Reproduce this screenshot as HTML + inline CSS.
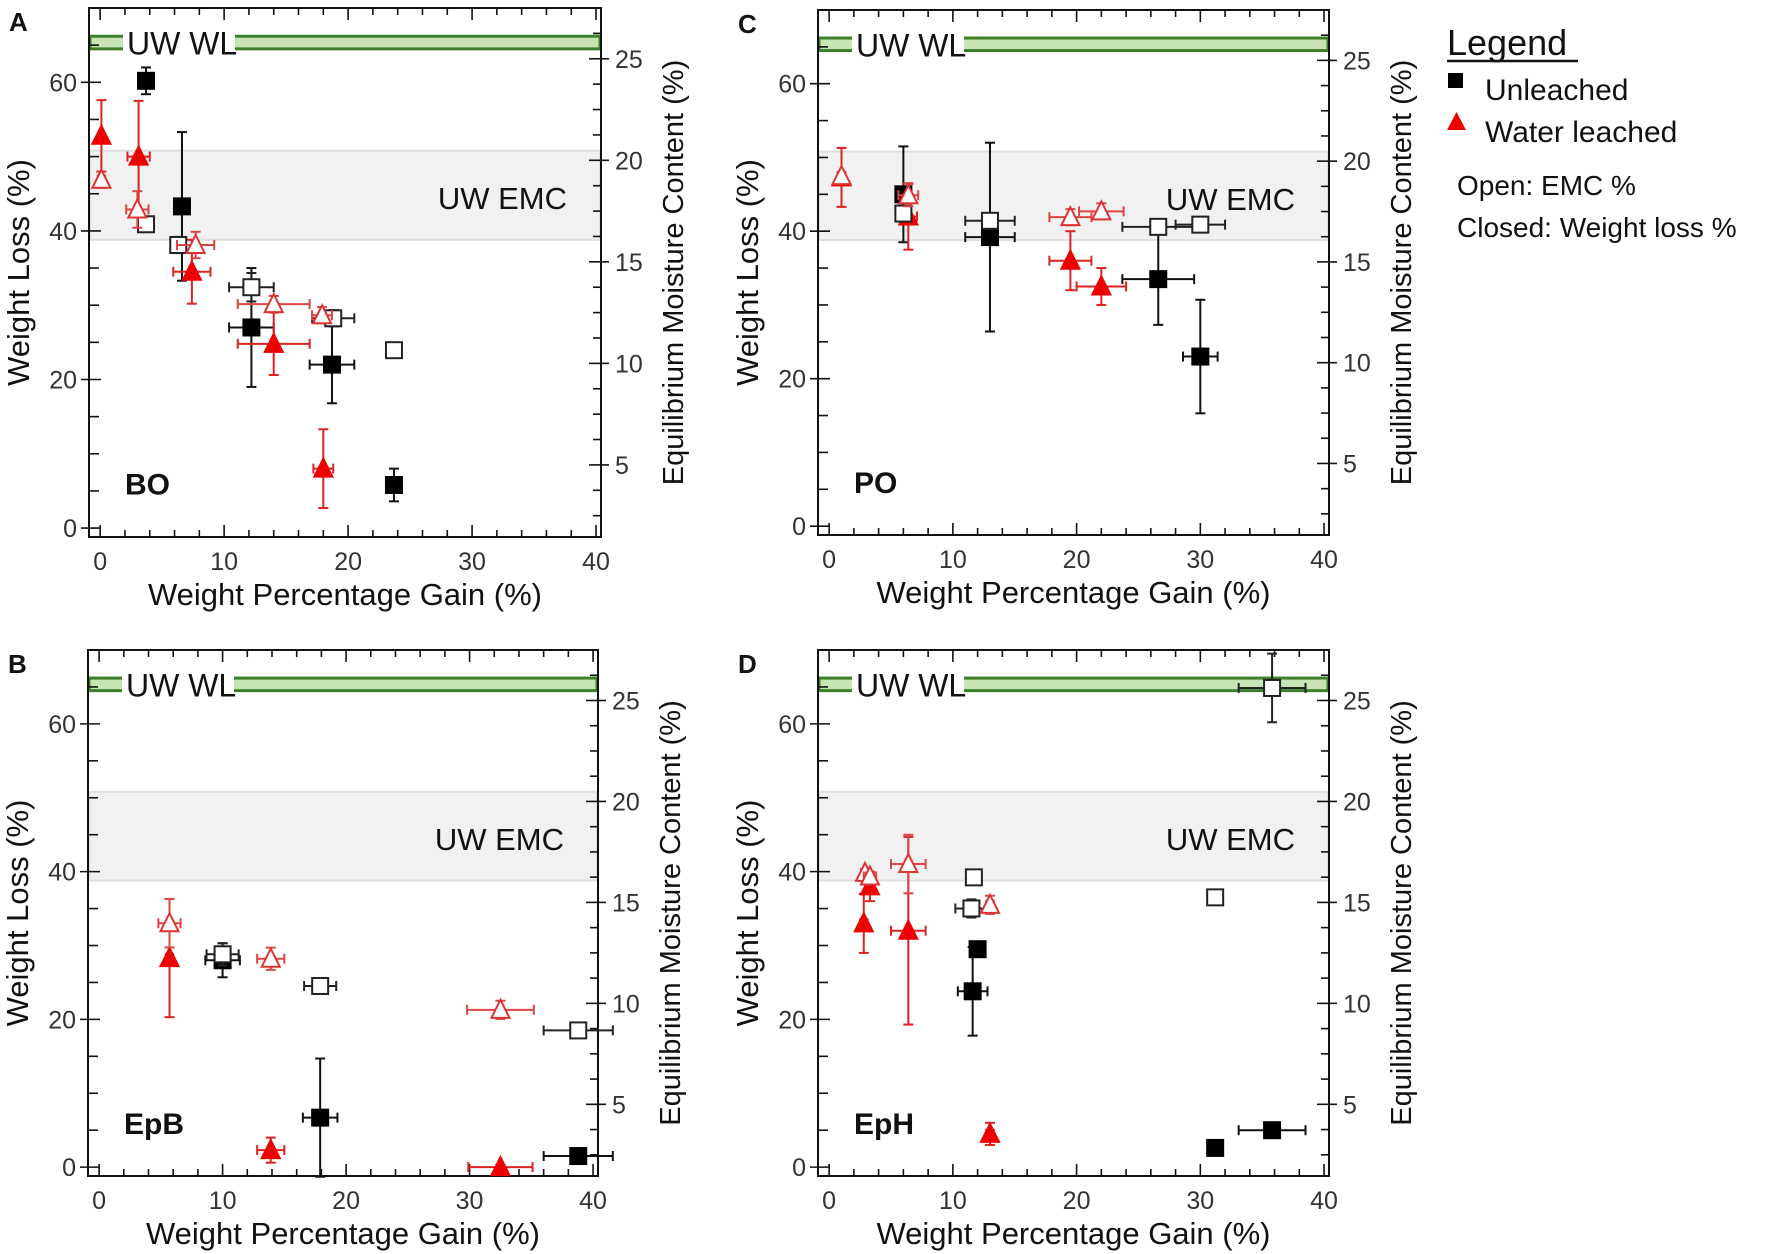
<!DOCTYPE html>
<html><head><meta charset="utf-8"><style>
html,body{margin:0;padding:0;background:#fff;}
svg{display:block;font-family:"Liberation Sans",sans-serif;}
</style></head><body>
<svg id="fig" width="1772" height="1254" viewBox="0 0 1772 1254" xmlns="http://www.w3.org/2000/svg">
<rect width="1772" height="1254" fill="#fff"/>
<g id="legend">
  <text x="1447" y="55" font-size="36" fill="#111">Legend</text>
  <line x1="1447" y1="61" x2="1578" y2="61" stroke="#111" stroke-width="2.5"/>
  <rect x="1448" y="73" width="15" height="15" fill="#000"/>
  <text x="1485" y="100" font-size="30" fill="#111">Unleached</text>
  <polygon points="1447,130 1466,130 1456.5,112" fill="#e00"/>
  <text x="1485" y="142" font-size="30" fill="#111">Water leached</text>
  <text x="1457" y="195" font-size="28" fill="#111">Open: EMC %</text>
  <text x="1457" y="237" font-size="28" fill="#111">Closed: Weight loss %</text>
</g>
</svg>
<script>
// ---- data: [x, y, xerr, yerr]; closed = weight loss (left axis), open = EMC (right axis) ----
const boClosedBlack = [[3.7,60.2,0.3,1.8],[6.6,43.3,0.6,10],[12.2,27,1.8,8],[18.7,22,1.8,5.2],[23.7,5.8,0.4,2.2]];
const boClosedRed   = [[0.1,52.8,0.2,4.8],[3.1,50,0.9,7.5],[7.4,34.5,1.5,4.3],[14,24.8,2.9,4.2],[18,8,0.8,5.3]];
const boOpenBlack   = [[3.7,16.85,0.3,0.3],[6.3,15.83,0.5,0.4],[12.2,13.75,1.8,0.7],[18.8,12.22,1.7,0.4],[23.7,10.65,0.4,0.3]];
const boOpenRed     = [[0.1,19.04,0.3,0.4],[3.0,17.58,0.9,0.9],[7.7,15.83,1.5,0.65],[14,12.92,2.9,0.4],[17.9,12.37,0.8,0.4]];

const poClosedBlack = [[6,45,0.3,6.5],[13,39.2,2,12.8],[26.6,33.5,2.9,6.2],[30,23,1.4,7.7]];
const poClosedRed   = [[1,47.3,0.3,4],[6.4,42,0.7,4.5],[19.5,36,1.7,4],[22,32.5,2,2.5]];
const poOpenBlack   = [[6,17.4,0.3,0.3],[13,17.04,2,0.3],[26.6,16.74,2.9,0.3],[30,16.85,2,0.3]];
const poOpenRed     = [[1,19.26,0.3,0.2],[6.4,18.31,0.8,0.55],[19.5,17.22,1.7,0.4],[22,17.51,1.8,0.4]];

const epbClosedBlack = [[10,28,1.4,2.3],[17.9,6.7,1.4,8],[38.8,1.5,2.8,0.3]];
const epbClosedRed   = [[5.7,28.3,0.3,8],[13.9,2.3,1.1,1.7],[32.5,0,2.6,0.3]];
const epbOpenBlack   = [[10,12.43,1.3,0.55],[17.9,10.86,1.3,0.37],[38.8,8.66,2.8,0.37]];
const epbOpenRed     = [[5.7,13.97,0.9,1.2],[13.9,12.21,1.1,0.55],[32.5,9.68,2.7,0.45]];

const ephClosedBlack = [[11.6,23.8,1.2,6],[12,29.5,0.3,0.5],[31.2,2.6,0.4,0.3],[35.8,5,2.7,0.3]];
const ephClosedRed   = [[2.8,33,0.3,4],[3.3,38,0.3,2],[6.4,32,1.4,12.7],[13,4.5,0.3,1.5]];
const ephOpenBlack   = [[11.7,16.24,0.3,0.3],[11.5,14.7,1.3,0.45],[31.2,15.25,0.3,0.3],[35.8,25.62,2.7,1.7]];
const ephOpenRed     = [[2.9,16.46,0.3,0.2],[3.3,16.28,0.5,0.2],[6.4,16.9,1.4,1.45],[13,14.88,0.3,0.45]];

const xTicks = [0,10,20,30,40];
const yTicks = [0,20,40,60];
const rTicks = [5,10,15,20,25];
const wlBand = [64.5,66.2];
const emcBand = [38.8,50.8];

const panels = [
  {id:'a', letter:'A', label:'BO', L:89, R:601, T:8, B:537, data:[boClosedBlack,boClosedRed,boOpenBlack,boOpenRed]},
  {id:'c', letter:'C', label:'PO', L:818, R:1329, T:10, B:535, data:[poClosedBlack,poClosedRed,poOpenBlack,poOpenRed]},
  {id:'b', letter:'B', label:'EpB', L:88, R:598, T:650, B:1176, data:[epbClosedBlack,epbClosedRed,epbOpenBlack,epbOpenRed]},
  {id:'d', letter:'D', label:'EpH', L:818, R:1329, T:650, B:1176, data:[ephClosedBlack,ephClosedRed,ephOpenBlack,ephOpenRed]}
];
const NS='http://www.w3.org/2000/svg';
const svg=document.getElementById('fig');
function mk(tag,attrs,parent){const e=document.createElementNS(NS,tag);for(const k in attrs)e.setAttribute(k,attrs[k]);parent.appendChild(e);return e;}

panels.forEach(p=>{
  const g=mk('g',{},svg);
  
  
  const sx=v=>p.L+(v+0.9)/(41.3)*(p.R-p.L);
  const sy=v=>p.B-(v+1.2)/(71.2)*(p.B-p.T);
  const sr=v=>p.B-(v-1.45)/(26.05)*(p.B-p.T);
  const emc=mk('rect',{x:p.L+1,y:sy(emcBand[1]),width:p.R-p.L-2,height:sy(emcBand[0])-sy(emcBand[1]),fill:'#f1f1f1',stroke:'#dedede','stroke-width':2},g);
  
  
  const wl=mk('rect',{x:p.L+1,y:sy(wlBand[1]),width:p.R-p.L-2,height:sy(wlBand[0])-sy(wlBand[1]),fill:'#c9e4b4',stroke:'#3f7f2c','stroke-width':3},g);
  
  
  const wlx=p.L+38, wly=(sy(wlBand[0])+sy(wlBand[1]))/2;
  mk('rect',{x:wlx-4,y:wly-17,width:112,height:34,fill:'#fff'},g);
  const wlt=mk('text',{x:wlx,y:wly+12,'font-size':32,fill:'#111'},g);
  wlt.textContent='UW WL';
  
  
  const et=mk('text',{x:p.R-34,y:(sy(emcBand[0])+sy(emcBand[1]))/2+14,'font-size':31,fill:'#111','text-anchor':'end'},g);
  et.textContent='UW EMC';
  
  
  const fr=mk('rect',{x:p.L,y:p.T,width:p.R-p.L,height:p.B-p.T,fill:'none',stroke:'#111','stroke-width':2},g);
  
  
  for(let v=0;v<=40;v+=2){const x=sx(v);const len=v%10===0?12:7;
    mk('line',{x1:x,y1:p.B,x2:x,y2:p.B-len,stroke:'#111','stroke-width':1.6},g);
    mk('line',{x1:x,y1:p.T,x2:x,y2:p.T+len,stroke:'#111','stroke-width':1.6},g);}
  xTicks.forEach(v=>{const t=mk('text',{x:sx(v),y:p.B+33,'font-size':25,fill:'#333','text-anchor':'middle'},g);t.textContent=v;
    
    });
  for(let v=0;v<=65;v+=5){const y=sy(v);const maj=v%20===0;
    if(!maj) mk('line',{x1:p.L,y1:y,x2:p.L+10,y2:y,stroke:'#111','stroke-width':1.6},g);
    else mk('line',{x1:p.L-8,y1:y,x2:p.L+12,y2:y,stroke:'#111','stroke-width':1.6},g);}
  yTicks.forEach(v=>{const t=mk('text',{x:p.L-12,y:sy(v)+9,'font-size':25,fill:'#333','text-anchor':'end'},g);t.textContent=v;
    
    });
  for(let v=2.5;v<=27.5;v+=1.25){const y=sr(v);if(y<p.T+2)continue;const maj=Math.abs(v%5)<0.01;
    mk('line',{x1:p.R,y1:y,x2:p.R-(maj?12:8),y2:y,stroke:'#111','stroke-width':1.6},g);
    if(maj) mk('line',{x1:p.R,y1:y,x2:p.R+8,y2:y,stroke:'#111','stroke-width':1.6},g);}
  rTicks.forEach(v=>{const t=mk('text',{x:p.R+14,y:sr(v)+9,'font-size':25,fill:'#333'},g);t.textContent=v;
    
    });
  const cy=(p.T+p.B)/2;
  const yl=mk('text',{x:0,y:0,'font-size':31,fill:'#111','text-anchor':'middle',transform:`translate(${p.L-60},${cy}) rotate(-90)`},g);
  yl.textContent='Weight Loss (%)';
  
  
  const rl=mk('text',{x:0,y:0,'font-size':29,fill:'#111','text-anchor':'middle',transform:`translate(${p.R+82},${cy}) rotate(-90)`},g);
  rl.textContent='Equilibrium Moisture Content (%)';
  
  
  const xl=mk('text',{x:(p.L+p.R)/2,y:p.B+68,'font-size':31,fill:'#111','text-anchor':'middle'},g);
  xl.textContent='Weight Percentage Gain (%)';
  
  
  const lt=mk('text',{x:p.L-80,y:p.T+23,'font-size':26,'font-weight':'bold',fill:'#111'},g);
  lt.textContent=p.letter;
  
  
  const wl2=mk('text',{x:p.L+36,y:sy(4.5),'font-size':30,'font-weight':'bold',fill:'#111'},g);
  wl2.textContent=p.label;
  
  
  const styles=[
    {name:'unleached-weight-loss',ys:sy,ec:'#111',shape:'sq',fill:'#000',stroke:'#000'},
    {name:'leached-weight-loss',ys:sy,ec:'#d22',shape:'tri',fill:'#e00',stroke:'#e00'},
    {name:'unleached-emc',ys:sr,ec:'#222',shape:'sq',fill:'#fff',stroke:'#222'},
    {name:'leached-emc',ys:sr,ec:'#d44',shape:'tri',fill:'#fff',stroke:'#d33'}];
  p.data.forEach((arr,i)=>{const st=styles[i];
    arr.forEach(d=>{const x=sx(d[0]),y=st.ys(d[1]);
      const x1=sx(d[0]-d[2]),x2=sx(d[0]+d[2]);
      const y1=st.ys(d[1]-d[3]),y2=st.ys(d[1]+d[3]);
      const eg=mk('g',{stroke:st.ec,'stroke-width':2,fill:'none'},g);
      
      
      mk('line',{x1:x1,y1:y,x2:x2,y2:y},eg);
      mk('line',{x1:x1,y1:y-5,x2:x1,y2:y+5},eg);
      mk('line',{x1:x2,y1:y-5,x2:x2,y2:y+5},eg);
      mk('line',{x1:x,y1:y1,x2:x,y2:y2},eg);
      mk('line',{x1:x-5,y1:y1,x2:x+5,y2:y1},eg);
      mk('line',{x1:x-5,y1:y2,x2:x+5,y2:y2},eg);
      let m;
      if(st.shape==='sq') m=mk('rect',{x:x-8,y:y-8,width:16,height:16,fill:st.fill,stroke:st.stroke,'stroke-width':2},g);
      else m=mk('polygon',{points:`${x-9},${y+8} ${x+9},${y+8} ${x},${y-10}`,fill:st.fill,stroke:st.stroke,'stroke-width':2},g);
      
      
    });
  });
});
</script>
</body></html>
